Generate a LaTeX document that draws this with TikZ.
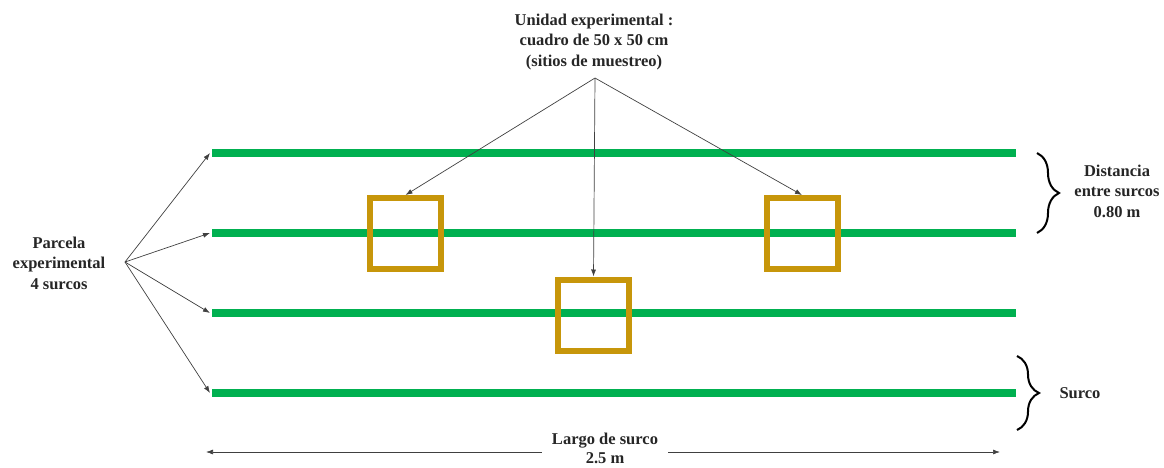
\documentclass[tikz,border=0pt]{standalone}
\usepackage{fontspec}
\setmainfont{Liberation Serif}
\usetikzlibrary{arrows.meta,decorations.pathreplacing}
\definecolor{surco}{RGB}{0,176,80}
\definecolor{cuadro}{RGB}{199,150,10}
\begin{document}
\begin{tikzpicture}[x=1pt,y=-1pt,
  lbl/.style={font=\fontsize{16.5}{20.5}\selectfont\bfseries, align=center, text=black!85, inner sep=1pt},
  row/.style={draw=surco, line width=8pt},
  sq/.style={draw=cuadro, line width=6pt, minimum size=71pt, inner sep=0pt},
  arr/.style={draw=black!75, line width=0.7pt, -{Latex[length=7pt,width=5pt]}},
  brc/.style={decorate, decoration={brace, amplitude=22pt}, line width=2pt}]
\useasboundingbox (0,0) rectangle (1164,467);
% rows
\foreach \i/\y in {1/153,2/233,3/313,4/393}{
  \coordinate (s\i) at (212,\y);
  \coordinate (e\i) at (1016,\y);
  \draw[row] (s\i) -- (e\i);
}
% squares
\node[sq] (q1) at (405.5,233.5) {};
\node[sq] (q2) at (802,233.5) {};
\node[sq] (q3) at (593.5,315) {};
% top label
\node[lbl] (ut) at (594,42) {Unidad experimental :\\cuadro de 50 x 50 cm\\(sitios de muestreo)};
\coordinate (uo) at (595,78);
\draw[arr] (uo) -- (q1.north);
\draw[arr] (uo) -- (q3.north);
\draw[arr] (uo) -- (q2.north);
% left label
\node[lbl] (pe) at (59,263) {Parcela\\experimental\\4 surcos};
\coordinate (po) at (125,262);
\foreach \i in {1,...,4}{ \draw[arr] (po) -- ([xshift=-2pt]s\i); }
% braces
\coordinate (b1a) at (1037,153);
\coordinate (b1b) at (1037,233);
\draw[brc] (b1a) -- (b1b);
\node[lbl] (ds) at (1117,191) {Distancia\\entre surcos\\0.80 m};
\coordinate (b2a) at (1017,356);
\coordinate (b2b) at (1017,430);
\draw[brc] (b2a) -- (b2b);
\node[lbl] (su) at (1080,393) {Surco};
% bottom dimension
\node[lbl, font=\fontsize{16.5}{19}\selectfont\bfseries, fill=white, inner xsep=10pt, inner ysep=0pt] (ls) at (605,448) {Largo de surco\\2.5 m};
\coordinate (bl) at (206,452);
\coordinate (br) at (1000,452);
\draw[arr] (ls.west |- bl) -- (bl);
\draw[arr] (ls.east |- br) -- (br);
\end{tikzpicture}
\end{document}
